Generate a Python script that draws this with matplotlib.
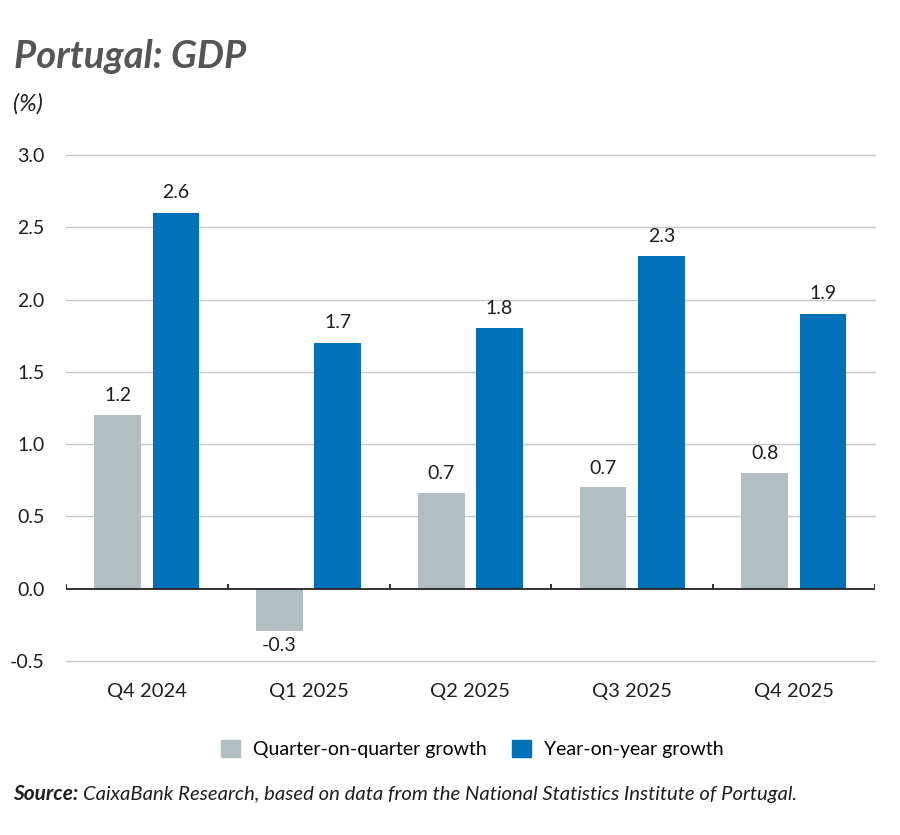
import matplotlib
matplotlib.use("Agg")
import matplotlib.pyplot as plt
import numpy as np
from matplotlib.patches import Patch

categories = ["Q4 2024", "Q1 2025", "Q2 2025", "Q3 2025", "Q4 2025"]
qoq_values = [1.2, -0.29, 0.66, 0.70, 0.80]
qoq_labels = ["1.2", "-0.3", "0.7", "0.7", "0.8"]
yoy_values = [2.6, 1.7, 1.8, 2.3, 1.9]
yoy_labels = ["2.6", "1.7", "1.8", "2.3", "1.9"]
yticks = [-0.5, 0.0, 0.5, 1.0, 1.5, 2.0, 2.5, 3.0]
series_names = ["Quarter-on-quarter growth", "Year-on-year growth"]

FONT = ["Lato", "DejaVu Sans"]
plt.rcParams["font.family"] = FONT

gray = "#b1bec2"
blue = "#0070b9"
txt = "#1e1e1e"

fig = plt.figure(figsize=(9, 8.35), dpi=100)
ax = fig.add_axes([0.0733, 0.2084, 0.8987, 0.606])

x = np.arange(len(categories))
w = 0.29
off = 0.18
b1 = ax.bar(x - off, qoq_values, width=w, color=gray, zorder=3)
b2 = ax.bar(x + off, yoy_values, width=w, color=blue, zorder=3)

ax.set_xlim(-0.5, len(categories) - 0.5)
ax.set_ylim(-0.5, 3.0)
ax.set_yticks(yticks)
ax.set_yticklabels([f"{v:.1f}" for v in yticks], fontsize=14, color=txt)
ax.tick_params(axis="y", length=0, pad=15.5)
ax.set_xticks(x)
ax.set_xticklabels(categories, fontsize=14.5, color=txt)
ax.tick_params(axis="x", length=0, pad=16)
for s in ax.spines.values():
    s.set_visible(False)

for v in yticks:
    if v != 0:
        ax.axhline(v, color="#c8c8c8", lw=1.0, zorder=1, clip_on=False)
ax.axhline(0, color="#222222", lw=1.3, zorder=4)
ax.vlines(np.arange(len(categories) + 1) - 0.5, 0, 0.03, color="#222222", lw=1.3, zorder=4)

for rect, lab, v in zip(b1, qoq_labels, qoq_values):
    cx = rect.get_x() + rect.get_width() / 2
    if v >= 0:
        ax.annotate(lab, (cx, v), xytext=(0, 14), textcoords="offset points",
                    ha="center", va="center", fontsize=14, color=txt)
    else:
        ax.annotate(lab, (cx, v), xytext=(0, -10.5), textcoords="offset points",
                    ha="center", va="center", fontsize=14, color=txt)
for rect, lab, v in zip(b2, yoy_labels, yoy_values):
    cx = rect.get_x() + rect.get_width() / 2
    ax.annotate(lab, (cx, v), xytext=(0, 14.5), textcoords="offset points",
                ha="center", va="center", fontsize=14, color=txt)

fig.text(0.015, 0.918, "Portugal: GDP", fontsize=27.5, fontweight="bold", fontstyle="italic",
         color="#555555", va="baseline")
fig.text(0.015, 0.868, "(%)", fontsize=17, fontstyle="italic", color=txt, va="baseline")

handles = [Patch(color=gray), Patch(color=blue)]
fig.legend(handles, series_names, loc="center", bbox_to_anchor=(0.525, 0.103), ncol=2,
           frameon=False, fontsize=14, handlelength=0.95, handleheight=0.95,
           handletextpad=0.7, columnspacing=1.3)

t1 = fig.text(0.015, 0.042, "Source:", fontsize=15, fontweight="bold", fontstyle="italic",
              color=txt, va="baseline")
fig.canvas.draw()
bb = t1.get_window_extent(fig.canvas.get_renderer())
x2 = (bb.x1 + 4) / fig.bbox.width
fig.text(x2, 0.042, "CaixaBank Research, based on data from the National Statistics Institute of Portugal.",
         fontsize=14.6, fontstyle="italic", color=txt, va="baseline")

fig.savefig("out.png", dpi=100)
